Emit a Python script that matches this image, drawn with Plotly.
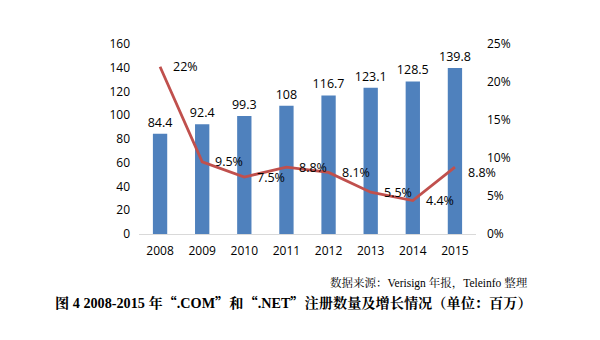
import plotly.graph_objects as go

years = ["2008", "2009", "2010", "2011", "2012", "2013", "2014", "2015"]
registrations = [84.4, 92.4, 99.3, 108, 116.7, 123.1, 128.5, 139.8]
reg_labels = ["84.4", "92.4", "99.3", "108", "116.7", "123.1", "128.5", "139.8"]
growth = [22, 9.5, 7.5, 8.8, 8.1, 5.5, 4.4, 8.8]
growth_labels = ["22%", "9.5%", "7.5%", "8.8%", "8.1%", "5.5%", "4.4%", "8.8%"]
left_ticks = [0, 20, 40, 60, 80, 100, 120, 140, 160]
right_ticks = [0, 5, 10, 15, 20, 25]
right_tick_labels = ["0%", "5%", "10%", "15%", "20%", "25%"]
source_text = "数据来源：Verisign 年报，Teleinfo 整理"
title_text = "图 4 2008-2015 年“.COM”和“.NET”注册数量及增长情况（单位：百万）"

FONT = "Open Sans, Liberation Sans, Noto Sans CJK SC, sans-serif"
SERIF = "Liberation Serif, Noto Serif CJK SC, Noto Sans CJK SC, serif"
CJK = "Noto Sans CJK SC"


def cjk_quotes(s):
    for q in ("“", "”"):
        s = s.replace(q, '<span style="font-family:%s">%s</span>' % (CJK, q))
    return s


fig = go.Figure()
fig.add_trace(go.Bar(
    x=years, y=registrations, text=reg_labels, textposition="outside",
    constraintext="none", textangle=0,
    textfont=dict(size=12.5, color="#000000", family=FONT),
    marker=dict(color="#4F81BD", line=dict(width=0)),
    cliponaxis=False, yaxis="y", showlegend=False,
))
fig.add_trace(go.Scatter(
    x=years, y=growth, mode="lines",
    line=dict(color="#C0504D", width=2.8),
    yaxis="y2", showlegend=False,
))
last = len(growth) - 1
for i, (g, lab) in enumerate(zip(growth, growth_labels)):
    fig.add_annotation(
        x=i, y=g, xref="x", yref="y2", text=lab, showarrow=False,
        xanchor="left", yanchor="middle", xshift=11,
        yshift=-5 if i == last else 0,
        font=dict(size=12.5, color="#000000", family=FONT),
    )

fig.add_annotation(
    x=1.16, y=-0.258, xref="paper", yref="paper", text=source_text,
    showarrow=False, xanchor="right", yanchor="middle",
    font=dict(size=11.5, color="#000000", family=SERIF),
)
fig.add_annotation(
    x=0.457, y=-0.36, xref="paper", yref="paper",
    text="<b>" + cjk_quotes(title_text) + "</b>",
    showarrow=False, xanchor="center", yanchor="middle",
    font=dict(size=14.2, color="#000000", family=SERIF),
)

fig.update_layout(
    width=600, height=340,
    margin=dict(l=139, r=124, t=44, b=106),
    paper_bgcolor="white", plot_bgcolor="white",
    bargap=0.66,
    font=dict(family=FONT, size=12, color="#000000"),
    xaxis=dict(
        type="category", range=[-0.5, len(years) - 0.5], categoryarray=years,
        showgrid=False, showline=True, linecolor="#D9D9D9",
        linewidth=1, ticks="", tickfont=dict(size=12), ticklabelstandoff=6,
    ),
    yaxis=dict(
        range=[0, 160], tickvals=left_ticks, showgrid=False, zeroline=False,
        showline=False, ticks="", tickfont=dict(size=12), ticklabelstandoff=8,
    ),
    yaxis2=dict(
        range=[0, 25], tickvals=right_ticks, ticktext=right_tick_labels,
        overlaying="y", side="right", showgrid=False, zeroline=False,
        showline=False, ticks="", tickfont=dict(size=12), ticklabelstandoff=10,
    ),
)

fig.write_html("out.html")
